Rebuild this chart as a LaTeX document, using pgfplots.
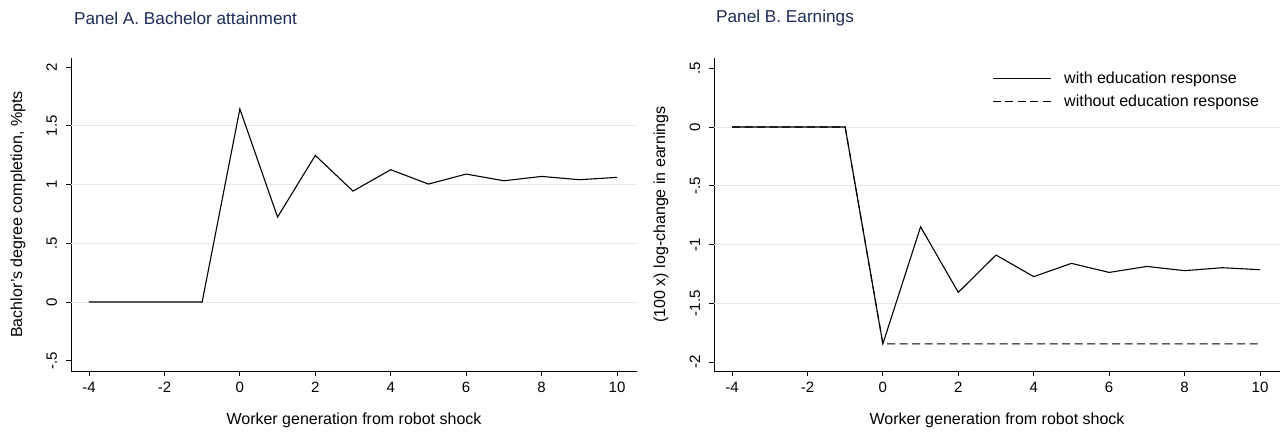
\documentclass[border=0pt]{standalone}
\usepackage{pgfplots}
\pgfplotsset{compat=1.18}
\usepackage{fontspec}
\setmainfont{Liberation Sans}
\definecolor{titleblue}{RGB}{28,45,88}
\definecolor{gridc}{RGB}{226,236,238}

\pgfplotstableread{
x y
-4 0
-3 0
-2 0
-1 0
0 1.643
1 0.723
2 1.248
3 0.944
4 1.126
5 1.004
6 1.089
7 1.032
8 1.069
9 1.041
10 1.061
}\tblA

\pgfplotstableread{
x y
-4 0
-3 0
-2 0
-1 0
0 -1.846
1 -0.850
2 -1.408
3 -1.090
4 -1.274
5 -1.161
6 -1.238
7 -1.187
8 -1.223
9 -1.198
10 -1.215
}\tblBwith

\pgfplotstableread{
x y
-4 0
-3 0
-2 0
-1 0
0 -1.846
1 -1.846
2 -1.846
3 -1.846
4 -1.846
5 -1.846
6 -1.846
7 -1.846
8 -1.846
9 -1.846
10 -1.846
}\tblBwithout

\pgfplotsset{
  stata/.style={
    scale only axis,
    anchor=south west,
    width=566bp, height=313bp,
    axis lines=left,
    axis line style={-, line width=0.8bp, black},
    tick align=outside,
    major tick length=5bp,
    tick style={line width=0.8bp, black},
    xmin=-4.477, xmax=10.53,
    xtick={-4,-2,0,2,4,6,8,10},
    xticklabels={-4,-2,0,2,4,6,8,10},
    ticklabel style={font=\fontsize{15bp}{17bp}\selectfont},
    yticklabel style={rotate=90, anchor=base, inner sep=0pt},
    yticklabel shift=9bp,
    xticklabel style={anchor=north, inner sep=0pt},
    xticklabel shift=6bp,
    label style={font=\fontsize{16bp}{18bp}\selectfont},
    xlabel style={at={(axis description cs:0.5,0)}, anchor=center, yshift=-49bp},
    ylabel style={at={(axis description cs:-0.0936,0.5)}, anchor=center},
    extra y tick style={grid=major, major tick length=0pt, ticklabel style={opacity=0}},
    major grid style={gridc, line width=0.8bp},
    clip=false,
  }
}

\begin{document}
\begin{tikzpicture}[x=1bp,y=1bp]
\path[use as bounding box] (0,0) rectangle (1281,434);

\node[anchor=west, text=titleblue, font=\fontsize{17.2bp}{20bp}\selectfont, inner sep=0pt] at (74,416) {Panel A. Bachelor attainment};
\node[anchor=west, text=titleblue, font=\fontsize{17.2bp}{20bp}\selectfont, inner sep=0pt] at (716,416) {Panel B. Earnings};

\begin{axis}[stata, at={(71bp,63bp)},
  ymin=-0.587, ymax=2.077,
  ytick={-0.5,0,0.5,1,1.5,2},
  yticklabels={-.5,0,.5,1,1.5,2},
  extra y ticks={0,0.5,1,1.5},
  extra y tick labels={},
  xlabel={Worker generation from robot shock},
  ylabel={Bachlor's degree completion, \%pts},
]
\addplot[black, line width=1.1bp] table[x=x,y=y] {\tblA};
\end{axis}

\begin{axis}[stata, at={(714bp,63bp)},
  ymin=-2.077, ymax=0.587,
  ytick={-2,-1.5,-1,-0.5,0,0.5},
  yticklabels={-2,-1.5,-1,-.5,0,.5},
  extra y ticks={-1.5,-1,-0.5,0},
  extra y tick labels={},
  xlabel={Worker generation from robot shock},
  ylabel={(100 x) log-change in earnings},
  legend style={draw=none, fill=none, at={(0.491,0.962)}, anchor=north west, inner sep=0pt,
    font=\fontsize{16bp}{18bp}\selectfont, row sep=6bp, cells={anchor=west},
    /tikz/every odd column/.append style={column sep=11bp}},
  legend cell align=left,
  legend image code/.code={\draw[#1] (0bp,0bp) -- (58bp,0bp);},
]
\addplot[black, line width=1.1bp] table[x=x,y=y] {\tblBwith};
\addplot[black, line width=1.1bp, dash pattern=on 8bp off 4.5bp] table[x=x,y=y] {\tblBwithout};
\legend{with education response, without education response}
\end{axis}
\end{tikzpicture}
\end{document}
